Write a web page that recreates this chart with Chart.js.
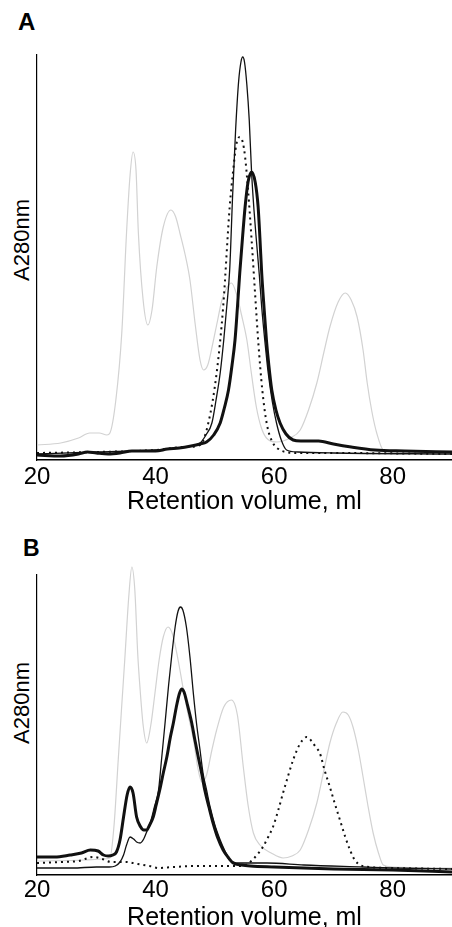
<!DOCTYPE html>
<html>
<head>
<meta charset="utf-8">
<script src="https://cdn.jsdelivr.net/npm/chart.js@4.4.0/dist/chart.umd.min.js"></script>
<style>
html, body { margin: 0; padding: 0; background: #fff; overflow: hidden; }
body { width: 452px; height: 927px; position: relative; font-family: "Liberation Sans", Arial, sans-serif; color: #000; }
canvas { position: absolute; left: 0; }
#chartA { top: 0; }
#chartB { top: 463px; }
.panel { position: absolute; font-weight: bold; line-height: 1; }
.ylab { position: absolute; width: 120px; height: 26px; line-height: 26px; text-align: center;
        font-size: 22px; transform: rotate(-90deg); white-space: nowrap; }
</style>
</head>
<body>
<div class="panel" style="left:18px;top:10px;font-size:24px">A</div>
<div class="ylab" style="left:-38px;top:227px">A280nm</div>
<canvas id="chartA" width="452" height="520"></canvas>
<div class="panel" style="left:23px;top:537px;font-size:23px">B</div>
<div class="ylab" style="left:-38px;top:690px">A280nm</div>
<canvas id="chartB" width="452" height="475"></canvas>
<script>
// x ticks shared by both panels
const xTicks = [20, 40, 60, 80]

// panel A (absorbance, arbitrary units)
const aGrayX = [20, 24, 27, 28.9, 30.5, 31.8, 32.3, 33.3, 34.3, 35.1, 35.7, 36.2, 36.7, 37.1, 37.9, 38.7, 39.4, 40.2, 41.3, 42.6, 43.4, 44.1, 45, 45.8, 46.7, 47.5, 48.1, 48.8, 49.6, 50.3, 51.2, 52, 52.8, 53.7, 54.5, 55.4, 56.2, 57, 57.8, 58.7, 60.4, 62.7, 64.4, 65.8, 67.2, 68.4, 69.4, 70.8, 72, 73, 74, 75, 75.7, 76.5, 77.3, 78.4, 80, 90]
const aGrayY = [15, 17, 22, 27, 27, 25, 27, 60, 127, 227, 285, 308, 290, 227, 160, 135, 150, 193, 233, 250, 243, 227, 205, 180, 135, 100, 90, 95, 115, 135, 160, 172, 177, 165, 145, 120, 85, 53, 33, 22, 18, 22, 30, 50, 77, 108, 133, 158, 167, 160, 143, 110, 77, 48, 27, 10, 8, 8]
const aDotX = [20, 30, 40, 45, 47.5, 48.9, 50.3, 51.4, 52.5, 53.1, 53.6, 54.2, 54.7, 55.1, 55.6, 56.2, 56.8, 57.3, 58, 58.8, 59.8, 61, 62, 64, 70, 90]
const aDotY = [7, 8, 10, 13, 15, 37, 87, 153, 253, 290, 315, 323, 318, 303, 270, 220, 165, 120, 70, 35, 17, 10, 8, 7, 7, 6]
const aThinX = [20, 30, 40, 45, 47.5, 48.5, 49.5, 50.2, 50.9, 51.5, 52, 52.5, 53, 53.5, 54, 54.4, 54.7, 55, 55.4, 55.8, 56.2, 56.6, 57, 57.5, 57.9, 58.5, 59, 59.7, 60.4, 61.2, 62.1, 64, 70, 90]
const aThinY = [6, 8, 10, 13, 17, 25, 37, 60, 87, 120, 153, 190, 265, 330, 378, 398, 403, 398, 375, 340, 287, 250, 220, 185, 153, 115, 87, 58, 37, 20, 10, 8, 7, 6]
const aThickX = [20, 24, 27, 28.5, 30, 32, 34, 36, 38, 40, 42, 44, 46, 47.5, 48.6, 49.8, 50.9, 51.6, 52.3, 52.9, 53.4, 53.8, 54.2, 54.7, 55.1, 55.6, 56.2, 56.8, 57.3, 57.6, 57.9, 58.3, 58.7, 59.1, 59.6, 60.3, 61, 62, 63.2, 64.5, 66, 67.5, 70, 73, 77, 82, 90]
const aThickY = [5, 4, 6, 8, 7, 6, 7, 9, 9, 9, 11, 12, 14, 16, 18, 25, 37, 52, 70, 95, 120, 152, 187, 225, 253, 278, 288, 278, 253, 222, 187, 152, 120, 95, 70, 50, 37, 26, 20, 19, 19, 19, 16, 13, 10, 9, 8]

// panel B
const bGrayX = [20, 28, 31, 32.3, 33, 33.7, 34.3, 34.8, 35.5, 36, 36.5, 37, 37.4, 37.9, 38.5, 39.2, 39.9, 40.6, 41.3, 42.1, 42.9, 43.8, 44.7, 45.5, 46.4, 47.1, 47.8, 48.6, 49.5, 50.3, 51.5, 52.8, 53.8, 54.8, 55.6, 56.5, 57.6, 59.5, 61.5, 63, 64.4, 65.8, 67.2, 68.3, 69.4, 70.5, 71.6, 72.5, 73.3, 74.2, 75, 75.8, 76.7, 77.6, 78.4, 80, 90]
const bGrayY = [14, 15, 16, 17, 50, 115, 170, 215, 280, 308, 285, 220, 185, 150, 132, 150, 182, 215, 238, 248, 240, 215, 185, 160, 135, 108, 93, 100, 125, 145, 168, 175, 160, 108, 70, 42, 30, 22, 17, 19, 25, 45, 72, 102, 132, 152, 163, 160, 148, 125, 98, 70, 42, 22, 10, 8, 7]
const bDotX = [20, 24, 27, 29.5, 31, 32.5, 35, 37, 39, 40.5, 43, 47, 51, 54, 55.5, 57.1, 58.1, 59, 59.8, 60.7, 61.5, 62.4, 63.2, 64, 64.8, 65.5, 66.3, 67, 67.7, 68.5, 69.4, 70.2, 71.1, 72, 72.8, 73.6, 74.5, 76, 80, 90]
const bDotY = [12, 13, 14, 18, 16, 13, 13, 11, 9, 7, 8, 9, 9, 9, 11, 20, 28, 38, 48, 65, 82, 100, 115, 127, 135, 138, 134, 128, 122, 105, 88, 72, 55, 38, 25, 15, 10, 8, 7, 6]
const bThinX = [20, 26, 30, 32.2, 33.2, 34, 34.6, 35.1, 35.7, 36.3, 36.8, 37.4, 38, 38.5, 39.1, 39.8, 40.5, 41, 41.6, 42.2, 42.7, 43.3, 43.8, 44.2, 44.6, 45.2, 45.8, 46.4, 46.9, 47.5, 48, 48.6, 49.2, 50, 50.9, 51.7, 52.5, 54, 56, 58.8, 65, 75, 80, 90]
const bThinY = [7, 7, 8, 8, 9, 13, 20, 30, 38, 36, 33, 32, 36, 43, 52, 68, 85, 115, 152, 190, 218, 248, 264, 268, 265, 248, 218, 180, 152, 125, 102, 85, 68, 50, 35, 24, 15, 12, 12, 12, 10, 8, 7, 6]
const bThickX = [20, 23, 25.6, 27.5, 29, 30.3, 31.2, 32, 32.8, 33.4, 34, 34.6, 35.2, 35.7, 36.2, 36.8, 37.5, 38, 38.5, 39, 39.6, 40.1, 40.7, 41.3, 41.9, 42.5, 43, 43.5, 44, 44.4, 44.8, 45.3, 46.1, 46.6, 47.2, 47.8, 48.3, 49, 49.7, 50.5, 51.4, 52.2, 53.1, 54.5, 56, 60, 70, 80, 90]
const bThickY = [18, 18, 20, 22, 25, 24, 20, 19, 20, 23, 35, 58, 80, 88, 82, 58, 48, 45, 45, 50, 58, 70, 85, 102, 118, 138, 152, 168, 181, 186, 183, 172, 152, 136, 118, 101, 85, 68, 52, 37, 25, 18, 12, 10, 9, 8, 6, 5, 3]

const tickFont = { family: '"Liberation Sans", Arial, sans-serif', size: 24 }
const titleFont = { family: '"Liberation Sans", Arial, sans-serif', size: 25 }

function pts(xs, ys) {
  return xs.map((x, i) => ({ x: x, y: ys[i] }))
}

function trace(xs, ys, color, width, order, dash) {
  return {
    data: pts(xs, ys),
    borderColor: color,
    borderWidth: width,
    borderDash: dash || [],
    pointRadius: 0,
    cubicInterpolationMode: 'monotone',
    fill: false,
    clip: false,
    order: order
  }
}

function makeConfig(sets, topPad, yMax, tickPad, titlePad, axisH) {
  return {
    type: 'line',
    data: {
      datasets: [
        trace(sets[6], sets[7], '#111', 3, 0),
        trace(sets[4], sets[5], '#111', 1.3, 1),
        trace(sets[2], sets[3], '#111', 2, 2, [2, 4]),
        trace(sets[0], sets[1], '#d2d2d2', 1.2, 3)
      ]
    },
    options: {
      responsive: false,
      animation: false,
      events: [],
      layout: { padding: { top: topPad, left: 0, right: 0, bottom: 0 } },
      plugins: { legend: { display: false }, tooltip: { enabled: false } },
      scales: {
        x: {
          type: 'linear', min: 20, max: 90,
          afterBuildTicks: s => { s.ticks = xTicks.map(v => ({ value: v })) },
          ticks: { padding: tickPad, color: '#000', font: tickFont, maxRotation: 0 },
          grid: { display: false, drawTicks: false },
          border: { display: true, color: '#000', width: 1.5 },
          title: { display: true, text: 'Retention volume, ml', color: '#000', font: titleFont,
                   padding: { top: 0, bottom: titlePad } },
          afterFit: s => { s.height = axisH }
        },
        y: {
          min: 0, max: yMax,
          ticks: { display: false },
          grid: { display: false, drawTicks: false },
          border: { display: true, color: '#000', width: 1.2 },
          afterFit: s => { s.width = 37 }
        }
      }
    }
  }
}

new Chart(document.getElementById('chartA'),
  makeConfig([aGrayX, aGrayY, aDotX, aDotY, aThinX, aThinY, aThickX, aThickY], 55, 405, 3, 3, 60))
new Chart(document.getElementById('chartB'),
  makeConfig([bGrayX, bGrayY, bDotX, bDotY, bThinX, bThinY, bThickX, bThickY], 112, 300, 1, 5, 63))
</script>
</body>
</html>
